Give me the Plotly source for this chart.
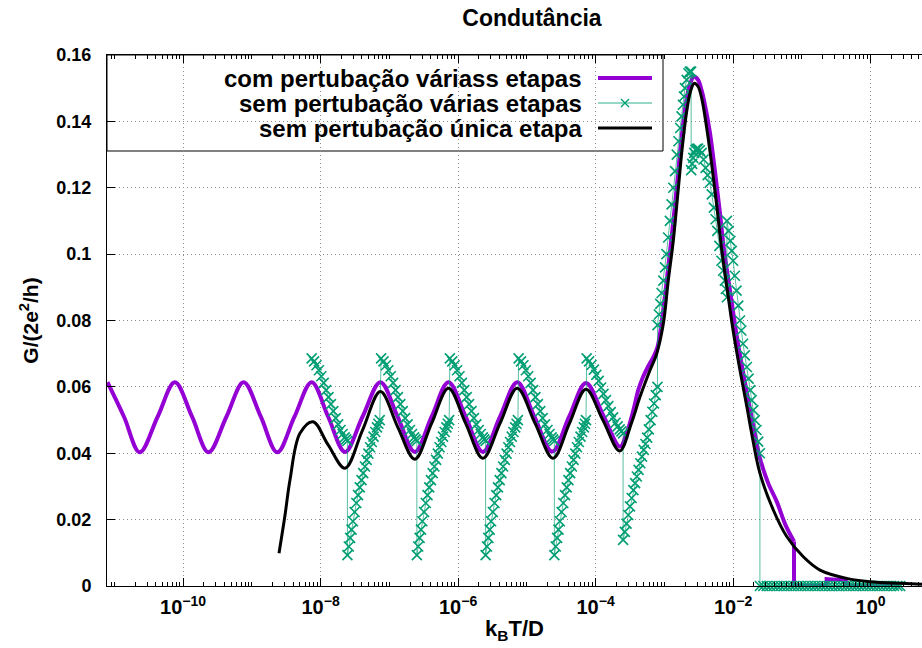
import plotly.graph_objects as go

# ---------------- data (x given as log10(k_B T / D), y = G/(2e^2/h)) ----------------
purple_log10T = [
    -11.10, -10.86, -10.63, -10.37, -10.12, -9.87, -9.63, -9.37, -9.12, -8.87, -8.63, -8.38,
    -8.13, -7.89, -7.645, -7.39, -7.13, -6.88, -6.63, -6.385, -6.14, -5.89, -5.64, -5.39,
    -5.14, -4.89, -4.63, -4.385, -4.14, -3.89, -3.645,
    -3.55, -3.45, -3.38, -3.31, -3.24, -3.16, -3.10,
    -3.03, -2.96, -2.89, -2.82, -2.76, -2.69, -2.63, -2.57,
    -2.51, -2.46, -2.42, -2.34, -2.27, -2.20, -2.13,
    -2.03, -1.96, -1.86, -1.76, -1.69, -1.61,
    -1.49, -1.366, -1.24, -1.114,
]
purple_G = [
    0.0614, 0.051, 0.0403, 0.051, 0.0614, 0.051, 0.0403, 0.051, 0.0614, 0.051, 0.0403, 0.051,
    0.0614, 0.051, 0.0404, 0.051, 0.0614, 0.051, 0.0404, 0.051, 0.0614, 0.051, 0.0404, 0.051,
    0.0614, 0.051, 0.0405, 0.051, 0.0612, 0.0515, 0.042,
    0.046, 0.053, 0.059, 0.063, 0.066, 0.069, 0.072,
    0.081, 0.093, 0.106, 0.120, 0.133, 0.145, 0.151, 0.1535,
    0.1525, 0.1495, 0.146, 0.137, 0.126, 0.114, 0.101,
    0.087, 0.077, 0.065, 0.054, 0.0465, 0.0385,
    0.031, 0.0255, 0.0185, 0.0134,
]
purple_tail_log10T = [-1.114, -1.114, -0.64, -0.64, -0.36, -0.36, 0.43]
purple_tail_G = [0.0134, 0.0, 0.0, 0.0021, 0.0017, 0.0, 0.0]

green_log10T = [
    # cycle 1 (falling branch, then rising branch)
    -8.13, -8.095, -8.06, -8.025, -7.99, -7.955, -7.92, -7.885, -7.85, -7.815, -7.78, -7.745,
    -7.71, -7.68, -7.65, -7.63, -7.61,
    -7.61, -7.59, -7.57, -7.55, -7.53, -7.505, -7.48, -7.455, -7.43, -7.405, -7.38, -7.355,
    -7.33, -7.305, -7.28, -7.255, -7.23, -7.205, -7.18, -7.16, -7.14,
    # cycle 2
    -7.12, -7.085, -7.05, -7.015, -6.98, -6.945, -6.91, -6.875, -6.84, -6.805, -6.77, -6.735,
    -6.70, -6.67, -6.64, -6.62, -6.60,
    -6.60, -6.58, -6.56, -6.54, -6.52, -6.495, -6.47, -6.445, -6.42, -6.395, -6.37, -6.345,
    -6.32, -6.295, -6.27, -6.245, -6.22, -6.195, -6.17, -6.15, -6.13,
    # cycle 3
    -6.12, -6.085, -6.05, -6.015, -5.98, -5.945, -5.91, -5.875, -5.84, -5.805, -5.77, -5.735,
    -5.70, -5.67, -5.64, -5.62, -5.60,
    -5.60, -5.58, -5.56, -5.54, -5.52, -5.495, -5.47, -5.445, -5.42, -5.395, -5.37, -5.345,
    -5.32, -5.295, -5.27, -5.245, -5.22, -5.195, -5.17, -5.15, -5.13,
    # cycle 4
    -5.12, -5.085, -5.05, -5.015, -4.98, -4.945, -4.91, -4.875, -4.84, -4.805, -4.77, -4.735,
    -4.70, -4.67, -4.64, -4.62, -4.60,
    -4.60, -4.58, -4.56, -4.54, -4.52, -4.495, -4.47, -4.445, -4.42, -4.395, -4.37, -4.345,
    -4.32, -4.295, -4.27, -4.245, -4.22, -4.195, -4.17, -4.155, -4.14,
    # cycle 5
    -4.13, -4.095, -4.06, -4.025, -3.99, -3.955, -3.92, -3.885, -3.85, -3.815, -3.78, -3.745,
    -3.71, -3.68, -3.65, -3.625, -3.60,
    -3.60, -3.575, -3.55, -3.525, -3.50, -3.475, -3.45, -3.425, -3.40, -3.375, -3.35, -3.325,
    -3.30, -3.275, -3.25, -3.225, -3.20, -3.175, -3.15, -3.125, -3.10,
    # peak: rising side
    -3.10, -3.08, -3.06, -3.04, -3.015, -2.99, -2.97, -2.945, -2.92, -2.895, -2.87, -2.845,
    -2.82, -2.795, -2.77, -2.75, -2.73, -2.715, -2.70, -2.675, -2.65, -2.63, -2.61,
    # peak: lower falling branch
    -2.61, -2.595, -2.58, -2.565, -2.545, -2.53, -2.51, -2.485, -2.457, -2.43, -2.40, -2.37,
    -2.34, -2.31, -2.28, -2.255, -2.23, -2.20, -2.17, -2.145, -2.12, -2.105, -2.09,
    # peak: upper falling branch
    -2.09, -2.065, -2.04, -2.02, -2.00, -1.975, -1.95, -1.925, -1.90, -1.88, -1.856, -1.83,
    -1.80, -1.775, -1.75, -1.73, -1.706, -1.685, -1.66, -1.635, -1.61,
    # zero plateau
    -1.61, -1.56, -1.51, -1.46, -1.41, -1.36, -1.31, -1.26, -1.21, -1.16, -1.11, -1.06,
    -1.01, -0.96, -0.91, -0.86, -0.81, -0.76, -0.71, -0.66, -0.61, -0.56, -0.51, -0.46,
    -0.41, -0.36, -0.31, -0.26, -0.21, -0.16, -0.11, -0.06, -0.01, 0.04, 0.09, 0.14,
    0.19, 0.24, 0.29, 0.34, 0.39, 0.43,
]
green_G = [
    # cycle 1
    0.0686, 0.0677, 0.0665, 0.0650, 0.0632, 0.0612, 0.0590, 0.0569, 0.0548, 0.0527, 0.0506, 0.0487,
    0.0470, 0.0458, 0.0448, 0.0442, 0.0437,
    0.0093, 0.0119, 0.0145, 0.0170, 0.0195, 0.0223, 0.0250, 0.0274, 0.0297, 0.0319, 0.0340, 0.0360,
    0.0380, 0.0399, 0.0418, 0.0434, 0.0450, 0.0464, 0.0478, 0.0489, 0.0500,
    # cycle 2
    0.0686, 0.0677, 0.0665, 0.0650, 0.0632, 0.0612, 0.0590, 0.0569, 0.0548, 0.0527, 0.0506, 0.0487,
    0.0470, 0.0458, 0.0448, 0.0442, 0.0437,
    0.0093, 0.0119, 0.0145, 0.0170, 0.0195, 0.0223, 0.0250, 0.0274, 0.0297, 0.0319, 0.0340, 0.0360,
    0.0380, 0.0399, 0.0418, 0.0434, 0.0450, 0.0464, 0.0478, 0.0489, 0.0500,
    # cycle 3
    0.0686, 0.0677, 0.0665, 0.0650, 0.0632, 0.0612, 0.0590, 0.0569, 0.0548, 0.0527, 0.0506, 0.0487,
    0.0470, 0.0458, 0.0448, 0.0442, 0.0437,
    0.0093, 0.0119, 0.0145, 0.0170, 0.0195, 0.0223, 0.0250, 0.0274, 0.0297, 0.0319, 0.0340, 0.0360,
    0.0380, 0.0399, 0.0418, 0.0434, 0.0450, 0.0464, 0.0478, 0.0489, 0.0500,
    # cycle 4
    0.0686, 0.0677, 0.0665, 0.0650, 0.0632, 0.0612, 0.0590, 0.0569, 0.0548, 0.0527, 0.0506, 0.0487,
    0.0470, 0.0458, 0.0448, 0.0442, 0.0437,
    0.0093, 0.0119, 0.0145, 0.0170, 0.0195, 0.0223, 0.0250, 0.0274, 0.0297, 0.0319, 0.0340, 0.0360,
    0.0380, 0.0399, 0.0418, 0.0434, 0.0450, 0.0464, 0.0478, 0.0489, 0.0500,
    # cycle 5
    0.0686, 0.0677, 0.0666, 0.0652, 0.0636, 0.0618, 0.0598, 0.0579, 0.0560, 0.0542, 0.0524, 0.0508,
    0.0492, 0.0481, 0.0472, 0.0466, 0.0460,
    0.0139, 0.0163, 0.0188, 0.0214, 0.0240, 0.0265, 0.0289, 0.0310, 0.0330, 0.0350, 0.0370, 0.0390,
    0.0410, 0.0428, 0.0447, 0.0472, 0.0500, 0.0525, 0.0550, 0.0575, 0.0600,
    # peak: rising side
    0.0786, 0.0818, 0.0850, 0.0883, 0.0920, 0.0960, 0.1000, 0.1050, 0.1100, 0.1150, 0.1200, 0.1250,
    0.1300, 0.1340, 0.1380, 0.1415, 0.1450, 0.1475, 0.1500, 0.1525, 0.1545, 0.1550, 0.1550,
    # peak: lower falling branch
    0.1253, 0.1272, 0.1290, 0.1305, 0.1314, 0.1317, 0.1318, 0.1313, 0.1305, 0.1285, 0.1260, 0.1238,
    0.1215, 0.1180, 0.1140, 0.1105, 0.1070, 0.1025, 0.0980, 0.0950, 0.0920, 0.0895, 0.0870,
    # peak: upper falling branch
    0.1100, 0.1070, 0.1040, 0.1010, 0.0980, 0.0935, 0.0890, 0.0845, 0.0800, 0.0770, 0.0730, 0.0695,
    0.0660, 0.0625, 0.0590, 0.0560, 0.0530, 0.0500, 0.0470, 0.0435, 0.0400,
    # zero plateau
    0.0, 0.0, 0.0, 0.0, 0.0, 0.0, 0.0, 0.0, 0.0, 0.0, 0.0, 0.0,
    0.0, 0.0, 0.0, 0.0, 0.0, 0.0, 0.0, 0.0, 0.0, 0.0, 0.0, 0.0,
    0.0, 0.0, 0.0, 0.0, 0.0, 0.0, 0.0, 0.0, 0.0, 0.0, 0.0, 0.0,
    0.0, 0.0, 0.0, 0.0, 0.0, 0.0,
]

black_log10T = [
    -8.605, -8.52, -8.445, -8.30, -8.11, -7.89, -7.645, -7.39, -7.13, -6.88, -6.63, -6.385,
    -6.14, -5.89, -5.64, -5.39, -5.14, -4.88, -4.62, -4.38, -4.14, -3.895, -3.65, -3.48,
    -3.354, -3.209, -3.111, -3.015, -2.943, -2.87, -2.80, -2.74, -2.675, -2.62, -2.565, -2.51,
    -2.457, -2.384, -2.311, -2.24, -2.17, -2.07, -2.00, -1.90, -1.80, -1.73, -1.61, -1.415,
    -1.22, -0.979, -0.736, -0.348, -0.009, 0.428, 0.75,
]
black_G = [
    0.0099, 0.021, 0.032, 0.046, 0.0495, 0.0425, 0.0355, 0.047, 0.0586, 0.048, 0.0382, 0.049,
    0.0596, 0.049, 0.0385, 0.049, 0.0596, 0.049, 0.0385, 0.049, 0.0593, 0.050, 0.0407, 0.049,
    0.057, 0.065, 0.070, 0.079, 0.092, 0.104, 0.119, 0.132, 0.143, 0.149, 0.1515, 0.1505,
    0.147, 0.138, 0.127, 0.115, 0.102, 0.087, 0.077, 0.065, 0.054, 0.046, 0.034, 0.0229,
    0.0149, 0.0088, 0.0048, 0.0023, 0.0013, 0.0008, 0.0005,
]

series_names = [
    "com pertubação váriass etapas",
    "sem pertubação várias etapas",
    "sem pertubação única etapa",
]
x_tick_values = [1e-10, 1e-8, 1e-6, 1e-4, 1e-2, 1e0]
x_tick_labels = ["10<sup>−10</sup>", "10<sup>−8</sup>", "10<sup>−6</sup>",
                 "10<sup>−4</sup>", "10<sup>−2</sup>", "10<sup>0</sup>"]
title_text = "Condutância"
x_title = "k<sub>B</sub>T/D"
y_title = "G/(2e<sup>2</sup>/h)"

PURPLE = "#9400D3"
GREEN = "#009E73"
BLACK = "#000000"
FONT = "Liberation Sans"


def tolin(vals):
    return [10 ** v for v in vals]


# minor tick positions on the log axis (2..9 x 10^n and the odd decades)
minor_ticks = []
for n in range(-12, 2):
    if n % 2 != 0:
        minor_ticks.append(10.0 ** n)
    for k in range(2, 10):
        minor_ticks.append(k * 10.0 ** n)

# plot-area geometry (pixels)
W, H = 922, 648
L, R, T, B = 107, 0, 55, 62
PW, PH = W - L - R, H - T - B
X_LO, X_HI = (107 - 870.6) / 68.75, (922 - 870.6) / 68.75


def px2paper_x(px):
    return (px - L) / PW


def py2paper_y(py):
    return (H - B - py) / PH


fig = go.Figure()

fig.add_trace(go.Scatter(
    x=tolin(purple_log10T), y=purple_G, mode="lines",
    line=dict(color=PURPLE, width=4, shape="spline", smoothing=1.0),
    showlegend=False, hoverinfo="skip"))
fig.add_trace(go.Scatter(
    x=tolin(purple_tail_log10T), y=purple_tail_G, mode="lines",
    line=dict(color=PURPLE, width=4), showlegend=False, hoverinfo="skip"))
fig.add_trace(go.Scatter(
    x=tolin(green_log10T), y=green_G, mode="lines+markers",
    line=dict(color="rgba(0,158,115,0.65)", width=1),
    marker=dict(symbol="x-thin", size=10, color=GREEN, line=dict(color=GREEN, width=1.6)),
    cliponaxis=False, showlegend=False, hoverinfo="skip"))
fig.add_trace(go.Scatter(
    x=tolin(black_log10T), y=black_G, mode="lines",
    line=dict(color=BLACK, width=3, shape="spline", smoothing=1.0),
    showlegend=False, hoverinfo="skip"))

# ---- hand-made key (sample on the right of right-aligned text, like gnuplot) ----
row_y = [py2paper_y(78), py2paper_y(103), py2paper_y(128)]
sx0, sx1 = px2paper_x(598), px2paper_x(652)
fig.add_trace(go.Scatter(x=[sx0, sx1], y=[row_y[0]] * 2, xaxis="x2", yaxis="y2", mode="lines",
                         line=dict(color=PURPLE, width=4), showlegend=False, hoverinfo="skip"))
fig.add_trace(go.Scatter(x=[sx0, sx1], y=[row_y[1]] * 2, xaxis="x2", yaxis="y2", mode="lines",
                         line=dict(color="rgba(0,158,115,0.55)", width=1.5), showlegend=False, hoverinfo="skip"))
fig.add_trace(go.Scatter(x=[(sx0 + sx1) / 2], y=[row_y[1]], xaxis="x2", yaxis="y2", mode="markers",
                         marker=dict(symbol="x-thin", size=8, color=GREEN, line=dict(color=GREEN, width=1.3)),
                         showlegend=False, hoverinfo="skip"))
fig.add_trace(go.Scatter(x=[sx0, sx1], y=[row_y[2]] * 2, xaxis="x2", yaxis="y2", mode="lines",
                         line=dict(color=BLACK, width=3), showlegend=False, hoverinfo="skip"))

annotations = []
for name, yy in zip(series_names, row_y):
    annotations.append(dict(text=name, x=px2paper_x(584), y=yy, xref="paper", yref="paper",
                            xanchor="right", yanchor="middle", showarrow=False,
                            font=dict(family=FONT, size=24, color="black", weight="bold")))

shapes = [dict(type="rect", xref="paper", yref="paper", x0=0, x1=px2paper_x(663),
               y0=py2paper_y(151), y1=1, line=dict(color="black", width=1),
               fillcolor="white", layer="between")]

tickfont = dict(family=FONT, size=18, color="black", weight="bold")
xtickfont = dict(family=FONT, size=20, color="black", weight="bold")
GRID = "#8c8c8c"
fig.update_layout(
    width=W, height=H, margin=dict(l=L, r=R, t=T, b=B, pad=0),
    paper_bgcolor="white", plot_bgcolor="white",
    title=dict(text=title_text, x=px2paper_x(532), xref="paper", xanchor="center",
               y=1 - 18 / H, yref="container", yanchor="middle",
               font=dict(family=FONT, size=23, color="black", weight="bold")),
    xaxis=dict(type="log", range=[X_LO, X_HI], tickmode="array",
               tickvals=x_tick_values, ticktext=x_tick_labels,
               ticks="inside", ticklen=8, tickcolor="black", tickwidth=1,
               showline=True, linecolor="black", linewidth=1, mirror="ticks",
               showgrid=True, gridcolor=GRID, griddash="1px,3px", gridwidth=1,
               tickfont=xtickfont, ticklabelstandoff=3,
               minor=dict(ticks="inside", ticklen=4, tickmode="array", tickvals=minor_ticks,
                          tickcolor="black", showgrid=False),
               title=dict(text=x_title, font=dict(family=FONT, size=22, color="black", weight="bold"),
                          standoff=3),
               zeroline=False),
    yaxis=dict(range=[0, 0.16], dtick=0.02, ticks="inside", ticklen=8, tickcolor="black",
               showline=True, linecolor="black", linewidth=1, mirror=False,
               showgrid=True, gridcolor=GRID, griddash="1px,3px", gridwidth=1,
               tickfont=tickfont, ticklabelstandoff=11,
               title=dict(text=y_title, font=dict(family=FONT, size=21, color="black", weight="bold"),
                          standoff=12),
               zeroline=False),
    xaxis2=dict(overlaying="x", anchor="y2", range=[0, 1], visible=False),
    yaxis2=dict(overlaying="y", anchor="x2", range=[0, 1], visible=False),
    annotations=annotations,
    shapes=shapes,
)

fig.write_html("out.html")
